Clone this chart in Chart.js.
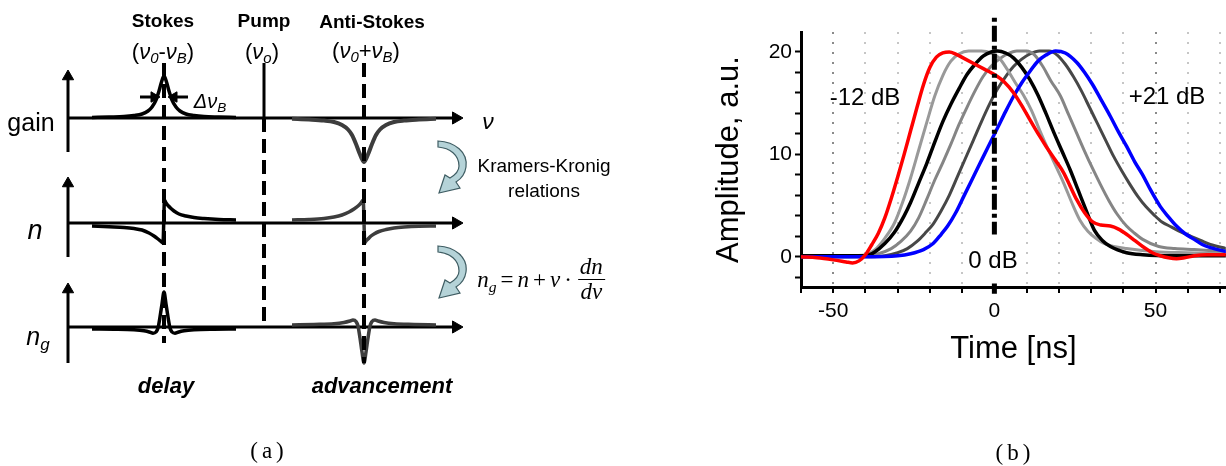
<!DOCTYPE html>
<html>
<head>
<meta charset="utf-8">
<script src="https://cdn.jsdelivr.net/npm/chart.js@4.4.1/dist/chart.umd.min.js"></script>
<style>
html, body { margin: 0; padding: 0; background: #fff; }
#page { position: relative; width: 1226px; height: 466px; overflow: hidden; font-family: "Liberation Sans", Arial, sans-serif; color: #000; }
canvas { position: absolute; top: 0; }
#diagram { left: 0; }
#pulses { left: 640px; }
svg { position: absolute; left: 0; top: 0; }
.lbl { position: absolute; transform: translate(-50%, -50%); line-height: 1; white-space: nowrap; }
.lbl sub { font-size: 0.68em; vertical-align: -0.3em; line-height: 0; }
.b { font-weight: bold; }
.i { font-style: italic; }
.fml { display: flex; align-items: center; font-family: "Liberation Serif", "Times New Roman", serif; font-size: 23px; }
.fml .op { margin: 0 4px; font-style: normal; }
.frac { display: inline-flex; flex-direction: column; align-items: center; margin-left: 2px; }
.frac span:first-child { border-bottom: 1.5px solid #000; padding: 0 2px 1px; }
.cap { font-family: "Liberation Serif", "Times New Roman", serif; font-size: 23px; letter-spacing: 4px; }
.knock { background: #fff; padding: 13px 0 12px; }
</style>
</head>
<body>
<div id="page">
  <canvas id="diagram" width="640" height="466"></canvas>
  <canvas id="pulses" width="586" height="466"></canvas>

  <svg width="1226" height="466">
    <g id="kk" fill="#b5d3d8" stroke="#3f5d63" stroke-width="1.2">
      <path d="M438 141 C455 142 468 152 466 167 C465 174 461 179 456 182 L460 188 L439 193 L445 175 L450 178 C455 175 459 171 459 166 C459 155 450 148 438 147 Z"/>
      <path d="M438 246 C455 247 468 257 466 272 C465 279 461 284 456 287 L460 293 L439 298 L445 280 L450 283 C455 280 459 276 459 271 C459 260 450 253 438 252 Z"/>
    </g>
  </svg>

  <!-- panel (a) labels -->
  <div class="lbl b" style="left:163px;top:20px;font-size:19px;">Stokes</div>
  <div class="lbl" style="left:163px;top:52px;font-size:22px;">(<span class="i">ν<sub>0</sub></span>-<span class="i">ν<sub>B</sub></span>)</div>
  <div class="lbl b" style="left:264px;top:20px;font-size:19px;">Pump</div>
  <div class="lbl" style="left:262px;top:52px;font-size:22px;">(<span class="i">ν<sub>o</sub></span>)</div>
  <div class="lbl b" style="left:372px;top:21px;font-size:19px;">Anti-Stokes</div>
  <div class="lbl" style="left:366px;top:51px;font-size:22px;">(<span class="i">ν<sub>0</sub></span>+<span class="i">ν<sub>B</sub></span>)</div>
  <div class="lbl i" style="left:210px;top:101px;font-size:20px;">Δν<sub>B</sub></div>
  <div class="lbl i" style="left:488px;top:121px;font-size:23px;">ν</div>
  <div class="lbl" style="left:31px;top:122px;font-size:25px;">gain</div>
  <div class="lbl i" style="left:35px;top:230px;font-size:27px;">n</div>
  <div class="lbl i" style="left:38px;top:336px;font-size:25px;">n<sub>g</sub></div>
  <div class="lbl" style="left:544px;top:165px;font-size:19px;">Kramers-Kronig</div>
  <div class="lbl" style="left:544px;top:190px;font-size:19px;">relations</div>
  <div class="lbl fml" style="left:541px;top:279px;">
    <span class="i">n<sub>g</sub></span><span class="op">=</span><span class="i">n</span><span class="op">+</span><span class="i">ν</span><span class="op">·</span><span class="frac"><span class="i">dn</span><span class="i">dν</span></span>
  </div>
  <div class="lbl b i" style="left:166px;top:386px;font-size:22px;">delay</div>
  <div class="lbl b i" style="left:382px;top:386px;font-size:22px;">advancement</div>
  <div class="lbl cap" style="left:269px;top:450px;">(a)</div>

  <!-- panel (b) labels -->
  <div class="lbl" style="left:865px;top:97px;font-size:24px;">-12 dB</div>
  <div class="lbl" style="left:1167px;top:96px;font-size:24px;">+21 dB</div>
  <div class="lbl knock" style="left:993px;top:259px;font-size:24px;">0 dB</div>
  <div class="lbl cap" style="left:1015px;top:452px;">(b)</div>
</div>

<script>
// ---------- panel (b): measured pulses, time [ns] / amplitude [a.u.]
const redT = [-60,-55,-50,-46,-44,-42,-40,-38,-36,-34,-32,-30,-28,-26,-24,-22,-20,-18,-16,-14,-12,-9,-6,-3,0,3,6,9,11,14,16,19,21.5,23.5,25.5,28,30.5,33,36,38.5,41,43.5,46,49,51.5,54,56.5,59,62,66,72]
const redA = [0,-0.1,-0.3,-0.5,-0.6,-0.4,0.2,1.2,2.3,3.8,5.7,7.8,10.0,12.3,14.6,16.8,18.5,19.5,19.9,20.0,19.8,19.3,18.8,18.3,17.8,17.1,16.0,14.5,13.4,11.8,10.8,9.4,8.2,6.9,5.6,4.3,3.4,3.1,3.0,2.7,2.2,1.6,1.0,0.4,0.1,-0.1,-0.2,-0.1,0.1,0.2,0.2]

const lightT = [-60,-45,-40,-37,-34,-31,-28.5,-26,-23.5,-21,-18.5,-16,-13.5,-11,-8,-4,-1,1.5,4,6.5,9,11.5,14,16.5,19,21.5,24,26.5,29,31.5,34,37,41,50,60,72]
const lightA = [0.1,0.1,0.2,0.7,1.8,3.3,5.3,7.7,10.4,13.1,15.7,17.7,19.1,19.8,20.1,20.1,19.9,19.4,18.3,17.0,15.8,14.3,12.4,10.6,8.9,7.2,5.3,3.6,2.5,1.8,1.3,1.0,0.8,0.5,0.4,0.3]

const blackT = [-60,-50,-40,-37,-34,-31,-28,-26,-23.5,-21,-18.5,-16,-13.5,-11,-8.5,-6,-3.5,-1,1,3.5,6,8.5,11,13.5,16,18.5,21,23.5,26,28.5,31,33.5,36,41,46,55,72]
const blackA = [0.1,0.1,0.1,0.5,1.3,2.4,4.0,5.3,7.2,9.1,11.2,13.2,14.9,16.4,17.8,18.8,19.6,20.0,20.1,19.9,19.4,18.5,17.3,15.8,14.0,12.1,10.3,8.5,6.5,4.5,2.6,1.6,1.0,0.4,0.2,0.1,0.1]

const grayT = [-60,-45,-40,-36,-32,-29,-26,-23.5,-21,-18.5,-16,-13.5,-11,-8.5,-6,-3.5,-1,1.5,4,7,10,12.5,15,17.5,20.5,23,25.5,28,30.5,33,35.5,38,41,43.5,46,51,56,62,72]
const grayA = [0,0,0.1,0.3,0.8,1.5,2.5,3.8,5.6,7.5,9.2,11.0,12.9,14.6,16.2,17.6,18.6,19.3,19.8,20.1,20.1,19.7,18.6,17.2,15.7,13.9,12.1,10.3,8.6,7.0,5.5,4.2,3.0,2.3,1.7,1.0,0.8,0.7,0.5]

const darkT = [-60,-40,-34,-30,-27,-24,-21.5,-19,-16.5,-14,-11.5,-9,-6.5,-4,-1.5,1,3.5,6,8.5,11,14,17,19.5,22,24.5,27,29.5,32,34.5,37,39.5,42,44.5,47,49.5,52,55,58,61,64,67,72]
const darkA = [0,0,0.1,0.4,0.8,1.5,2.3,3.2,4.5,6.0,7.8,9.6,11.4,13.2,14.9,16.4,17.6,18.6,19.3,19.8,20.1,20.1,19.7,18.8,17.6,16.2,14.6,13.0,11.4,9.8,8.4,7.1,5.9,4.9,4.1,3.4,2.9,2.4,2.0,1.6,1.2,0.8]

const blueT = [-60,-50,-40,-30,-26,-22,-19,-16.5,-14.5,-12,-9.5,-7,-4.5,-2,1,3.5,6,8.5,11,13.5,16,19,22,25.5,28,30.5,33,36,38.5,41,43.5,46,48.5,51.5,54,56.5,59,62,64.5,67,72]
const blueA = [0,0,0,0.1,0.3,0.7,1.3,2.2,3.0,4.3,5.9,7.5,9.1,10.7,12.6,14.2,15.7,17.0,18.1,19.1,19.7,20.1,19.9,19.0,18.0,16.8,15.4,13.7,12.2,10.8,9.3,8.0,6.5,4.9,3.9,3.0,2.3,1.7,1.2,0.9,0.5]

const timeLabels = [-50, 0, 50]
const ampLabels = [0, 10, 20]
const refLineT = [0, 0]
const refLineA = [-3.6, 23.7]

// ---------- panel (a): schematic spectra, offsets from each line centre
const gainOff = [-0.72,-0.55,-0.4,-0.3,-0.22,-0.16,-0.12,-0.08,-0.05,-0.025,0,0.025,0.05,0.08,0.12,0.16,0.22,0.3,0.4,0.55,0.72]
const gainStokes = [0.05,0.1,0.15,0.25,0.4,0.7,1.1,1.8,2.7,3.6,4.2,3.6,2.7,1.8,1.1,0.7,0.4,0.25,0.15,0.1,0.05]
const gainAnti = [-0.08,-0.15,-0.25,-0.4,-0.7,-1.15,-1.7,-2.6,-3.4,-4.0,-4.4,-4.0,-3.4,-2.6,-1.7,-1.15,-0.7,-0.4,-0.25,-0.15,-0.08]

const nOff = [-0.72,-0.55,-0.4,-0.3,-0.22,-0.15,-0.1,-0.06,-0.03,-0.01,0.005,0.02,0.04,0.07,0.1,0.15,0.22,0.3,0.4,0.55,0.72]
const nStokes = [-0.3,-0.38,-0.45,-0.55,-0.7,-1.0,-1.3,-1.6,-1.85,-2.0,2.3,2.0,1.75,1.45,1.2,0.9,0.7,0.55,0.45,0.35,0.3]
const nAntiOff = [-0.72,-0.55,-0.4,-0.3,-0.22,-0.15,-0.1,-0.06,-0.03,-0.008,0.008,0.02,0.04,0.07,0.1,0.15,0.22,0.3,0.4,0.55,0.72]
const nAnti = [0.3,0.35,0.45,0.6,0.8,1.1,1.4,1.7,2.0,2.3,-2.0,-1.8,-1.6,-1.3,-1.1,-0.85,-0.65,-0.5,-0.4,-0.32,-0.3]

const ngOff = [-0.72,-0.5,-0.3,-0.2,-0.14,-0.11,-0.08,-0.06,-0.04,-0.02,0,0.02,0.04,0.06,0.08,0.11,0.14,0.2,0.3,0.5,0.72]
const ngStokes = [-0.2,-0.22,-0.28,-0.38,-0.52,-0.62,-0.5,-0.1,1.0,2.3,3.5,2.3,1.0,-0.1,-0.5,-0.62,-0.52,-0.38,-0.28,-0.22,-0.2]
const ngAnti = [0.2,0.25,0.32,0.45,0.6,0.7,0.55,0.1,-1.1,-2.5,-3.6,-2.5,-1.1,0.1,0.55,0.7,0.6,0.45,0.32,0.25,0.2]

// line positions on the frequency axis (pump = 0) and row baselines
const stokesAt = -1, pumpAt = 0, antiAt = 1
const rows = [
  { base: 0, top: 4.8, bottom: -3.4 },      // gain
  { base: -10.5, top: 4.6, bottom: -3.4 },  // n
  { base: -20.9, top: 4.4, bottom: -3.6 }   // n_g
]
const axisLeft = -1.96, axisRight = 1.99

function pts(xs, ys, dx = 0, dy = 0) {
  return xs.map((x, i) => ({ x: x + dx, y: ys[i] + dy }))
}

function arrow(from, to, rot, r) {
  return {
    data: [from, to],
    borderColor: '#000', borderWidth: 3,
    pointStyle: 'triangle', rotation: rot,
    pointBackgroundColor: '#000', pointBorderColor: '#000', pointBorderWidth: 1,
    pointRadius: c => c.dataIndex === 1 ? r : 0,
    order: 3
  }
}

function curve(data, color, width) {
  return { data, borderColor: color, borderWidth: width, pointRadius: 0, cubicInterpolationMode: 'monotone', order: 2 }
}

function dashed(x, y1, y2, dash, width) {
  return { data: [{ x, y: y1 }, { x, y: y2 }], borderColor: '#000', borderWidth: width, borderDash: dash, pointRadius: 0, order: 1 }
}

const diagramSets = []
rows.forEach(r => {
  diagramSets.push(arrow({ x: axisLeft, y: r.base }, { x: axisRight - 0.07, y: r.base }, 90, 7))
  diagramSets.push(arrow({ x: axisLeft, y: r.base + r.bottom }, { x: axisLeft, y: r.base + r.top - 0.65 }, 0, 6.5))
})
diagramSets.push(curve(pts(gainOff, gainStokes, stokesAt, rows[0].base), '#000', 3.5))
diagramSets.push(curve(pts(gainOff, gainAnti, antiAt, rows[0].base), '#3d3d3d', 4))
diagramSets.push(curve(pts(nOff, nStokes, stokesAt, rows[1].base), '#000', 3.5))
diagramSets.push(curve(pts(nAntiOff, nAnti, antiAt, rows[1].base), '#3d3d3d', 3.5))
diagramSets.push(curve(pts(ngOff, ngStokes, stokesAt, rows[2].base), '#000', 3.5))
diagramSets.push(curve(pts(ngOff, ngAnti, antiAt, rows[2].base), '#3d3d3d', 3.5))
diagramSets.push(dashed(stokesAt, 5.5, -22.5, [14, 7], 4))
diagramSets.push(dashed(antiAt, 5.5, -24.5, [14, 7], 4))
diagramSets.push(dashed(pumpAt, 0, -20.9, [14, 7], 4))
diagramSets.push({ data: [{ x: pumpAt, y: 5.5 }, { x: pumpAt, y: 0 }], borderColor: '#000', borderWidth: 3, pointRadius: 0, order: 1 })
// Δν_B width markers
diagramSets.push(arrow({ x: stokesAt - 0.24, y: 2.1 }, { x: stokesAt - 0.1, y: 2.1 }, 90, 6))
diagramSets.push(arrow({ x: stokesAt + 0.24, y: 2.1 }, { x: stokesAt + 0.1, y: 2.1 }, -90, 6))

new Chart(document.getElementById('diagram'), {
  type: 'line',
  data: { datasets: diagramSets },
  options: {
    responsive: false,
    animation: false,
    layout: { autoPadding: false, padding: 0 },
    plugins: { legend: { display: false }, tooltip: { enabled: false } },
    scales: {
      x: { type: 'linear', min: -2.64, max: 3.76, display: false },
      y: { type: 'linear', min: -34.8, max: 11.8, display: false }
    }
  }
})

const tickFont = { family: '"Liberation Sans", Arial, sans-serif', size: 21 }
const titleFont = { family: '"Liberation Sans", Arial, sans-serif', size: 31 }

function trace(t, a, color, width, order) {
  return { data: pts(t, a), borderColor: color, borderWidth: width, pointRadius: 0, cubicInterpolationMode: 'monotone', order }
}

new Chart(document.getElementById('pulses'), {
  type: 'line',
  data: {
    datasets: [
      { data: pts(refLineT, refLineA), borderColor: '#000', borderWidth: 5, borderDash: [16, 4, 4, 4], pointRadius: 0, clip: false, order: 0 },
      trace(redT, redA, '#ff0000', 3.5, 1),
      trace(blueT, blueA, '#0000ff', 3.5, 2),
      trace(blackT, blackA, '#000000', 3.5, 3),
      trace(lightT, lightA, '#999999', 3, 4),
      trace(grayT, grayA, '#858585', 3, 5),
      trace(darkT, darkA, '#474747', 3, 6)
    ]
  },
  options: {
    responsive: false,
    animation: false,
    layout: { autoPadding: false, padding: { top: 32, right: 0, bottom: 0, left: 0 } },
    plugins: { legend: { display: false }, tooltip: { enabled: false } },
    scales: {
      x: {
        type: 'linear', min: -60, max: 71.8,
        afterFit: s => { s.height = 179 },
        ticks: {
          stepSize: 10, includeBounds: false, autoSkip: false, maxRotation: 0,
          color: '#000', font: tickFont, padding: 6,
          callback: v => timeLabels.includes(v) ? String(v) : ''
        },
        grid: {
          drawOnChartArea: true, lineWidth: 2,
          color: c => {
            const v = c.tick ? c.tick.value : null
            if (v === -60 || v === 0) return 'rgba(0,0,0,0)'
            return Math.abs(v) === 50 ? '#8a8a8a' : '#c6c6c6'
          },
          tickColor: '#000', tickLength: 6, tickWidth: 2
        },
        border: { display: true, color: '#000', width: 3, dash: [2, 8] },
        title: { display: true, text: 'Time [ns]', color: '#000', font: titleFont, padding: { top: 0, bottom: 98 } }
      },
      y: {
        type: 'linear', min: -2.95, max: 21.95,
        afterFit: s => { s.width = 161 },
        ticks: {
          stepSize: 2, includeBounds: false, autoSkip: false,
          color: '#000', font: tickFont, padding: 3,
          callback: v => ampLabels.includes(v) ? String(v) : ''
        },
        grid: { drawOnChartArea: false, tickColor: '#000', tickLength: 6, tickWidth: 2 },
        border: { display: true, color: '#000', width: 3 },
        title: { display: true, text: 'Amplitude, a.u.', color: '#000', font: titleFont, padding: { top: 71, bottom: 0 } }
      }
    }
  }
})
</script>
</body>
</html>
